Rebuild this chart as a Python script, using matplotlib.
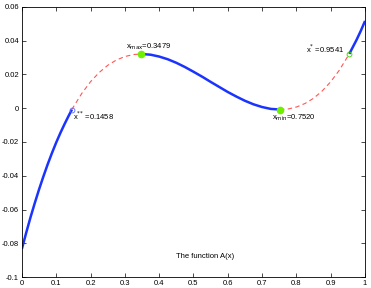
import numpy as np
import matplotlib
matplotlib.use("Agg")
import matplotlib.pyplot as plt

plt.rcParams["font.family"] = ["Liberation Sans", "DejaVu Sans"]
plt.rcParams["font.size"] = 6

# A(x)
x_vals = [0.0, 0.0125, 0.025, 0.0375, 0.05, 0.0625, 0.075, 0.0875, 0.1, 0.1125,
          0.125, 0.1375, 0.1458, 0.15, 0.175, 0.2, 0.225,
          0.25, 0.275, 0.3, 0.325, 0.3479, 0.35, 0.375, 0.4, 0.425, 0.45, 0.475,
          0.5, 0.525, 0.55, 0.575, 0.6, 0.625, 0.65, 0.675, 0.7, 0.725, 0.752,
          0.775, 0.8, 0.825, 0.85, 0.875, 0.9, 0.925, 0.9541, 0.975, 0.9875, 1.0]
a_vals = [-0.0833, -0.0738, -0.0647, -0.0562, -0.0481, -0.0405, -0.0333, -0.0266,
          -0.0203, -0.0145, -0.0091, -0.0040, -0.0008, 0.0007,
          0.0089, 0.0157, 0.0211, 0.0254, 0.0285, 0.0306, 0.0318, 0.0321, 0.0321,
          0.0317, 0.0306, 0.0290, 0.0269, 0.0244, 0.0216, 0.0187, 0.0156, 0.0126,
          0.0096, 0.0069, 0.0044, 0.0023, 0.0007, -0.0004, -0.0008, -0.0005,
          0.0007, 0.0028, 0.0059, 0.0102, 0.0157, 0.0225, 0.0322, 0.0404, 0.0458, 0.0517]

x_2star, a_2star = 0.1458, -0.0008
x_max, a_max = 0.3479, 0.0321
x_min, a_min = 0.7520, -0.0008
x_star, a_star = 0.9541, 0.0322

x = np.array(x_vals)
a = np.array(a_vals)

blue = "#1a33ff"
red = "#ff5555"
lime = "#70f000"

fig = plt.figure(figsize=(3.71, 2.88), dpi=100)
ax = fig.add_axes([0.059, 0.038, 0.925, 0.938])

# solid where A is monotone away from the plateau, dashed in between
for lo, hi, style in [(0.0, x_2star, "solid"), (x_2star, x_max, "dash"),
                      (x_max, x_min, "solid"), (x_min, x_star, "dash"),
                      (x_star, 1.0, "solid")]:
    m = (x >= lo - 1e-9) & (x <= hi + 1e-9)
    if style == "solid":
        ax.plot(x[m], a[m], color=blue, lw=1.8, solid_capstyle="butt",
                solid_joinstyle="round")
    else:
        ax.plot(x[m], a[m], color=red, lw=0.8, ls=(0, (4, 3)))

ax.plot([x_max, x_min], [a_max, a_min], "o", color=lime, ms=4.5, mec=lime)
ax.plot(x_2star, a_2star, "o", mfc="none", mec="#5566ff", ms=3.5, mew=0.6)
ax.plot(x_star, a_star, "o", mfc="none", mec="#44cc00", ms=3.5, mew=0.6)

ax.text(0.150, -0.0072, r"x$^{{*}{*}}$ =%.4f" % x_2star, fontsize=5.5)
ax.text(0.302, 0.0356, r"x$_{\mathrm{max}}$=%.4f" % x_max, fontsize=5.5)
ax.text(0.730, -0.0065, r"x$_{\mathrm{min}}$=%.4f" % x_min, fontsize=5.5)
ax.text(0.827, 0.0325, r"x$^{{*}}$ =%.4f" % x_star, fontsize=5.5)
ax.text(0.535, -0.0885, "The function A(x)", ha="center", fontsize=5.5)

ax.set_xlim(0, 1)
ax.set_ylim(-0.1, 0.06)
ax.set_xticks(np.arange(0, 1.01, 0.1))
ax.set_xticklabels(["0", "0.1", "0.2", "0.3", "0.4", "0.5", "0.6", "0.7", "0.8", "0.9", "1"])
ax.set_yticks(np.arange(-0.1, 0.061, 0.02))
ax.set_yticklabels(["-0.1", "-0.08", "-0.06", "-0.04", "-0.02", "0", "0.02", "0.04", "0.06"])
ax.tick_params(direction="in", top=True, right=True, length=3, width=0.5, pad=2, labelsize=5.5)
for s in ax.spines.values():
    s.set_linewidth(0.6)

fig.savefig("out.png", dpi=100)
